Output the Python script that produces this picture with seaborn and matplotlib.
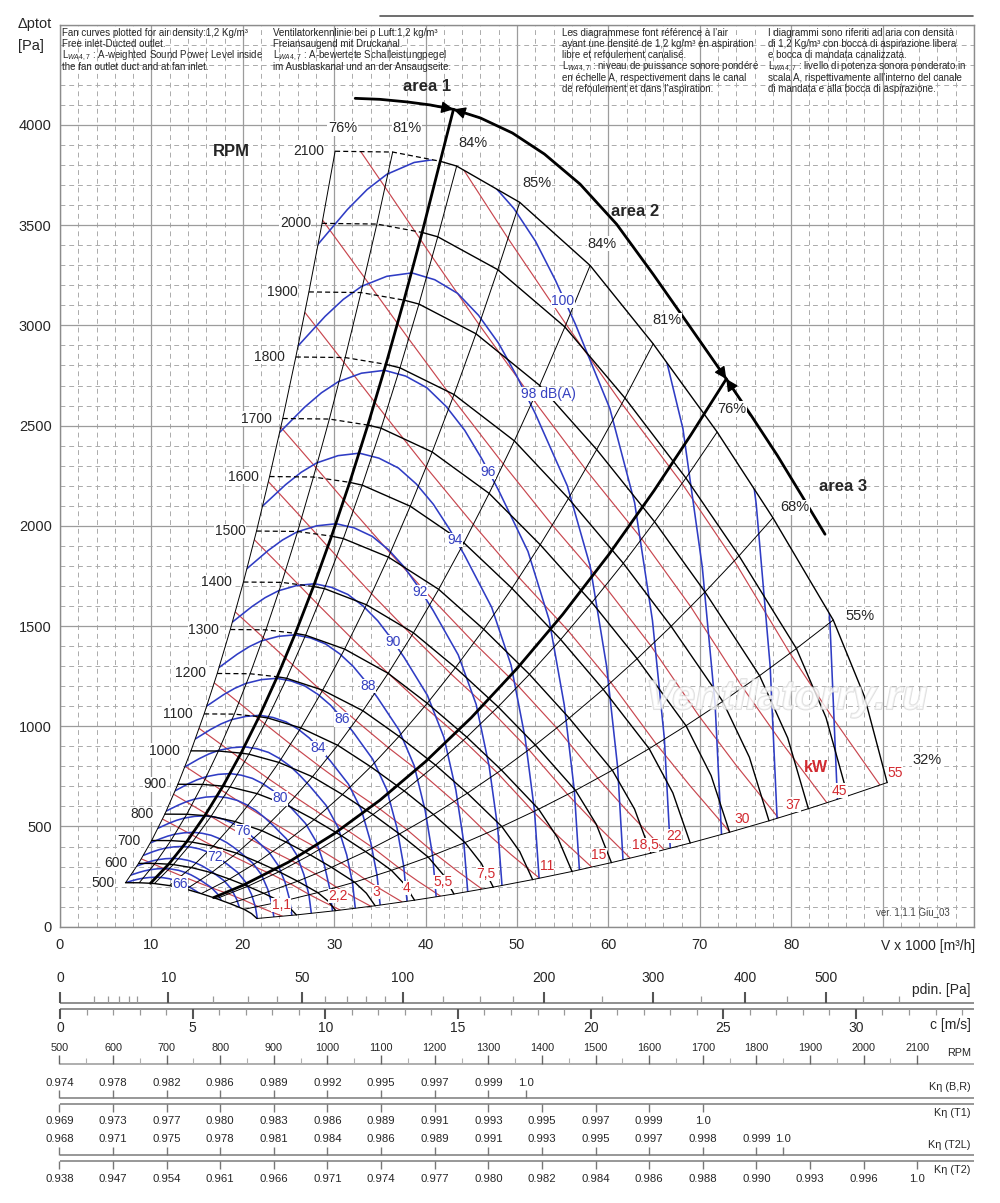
import numpy as np
import matplotlib
matplotlib.use("Agg")
import matplotlib.pyplot as plt
import matplotlib.patheffects as pe
from matplotlib.patches import Polygon
from matplotlib.lines import Line2D
import seaborn as sns

sns.set_style("white")
plt.rcParams["font.family"] = ["Liberation Sans", "DejaVu Sans"]
plt.rcParams["mathtext.fontset"] = "custom"
plt.rcParams["mathtext.rm"] = "Liberation Sans"
plt.rcParams["mathtext.it"] = "Liberation Sans:italic"

# ---------------- fan curves: V x 1000 [m3/h] / ptot [Pa] ----------------
rpm_values = [500, 600, 700, 800, 900, 1000, 1100, 1200, 1300, 1400, 1500,
              1600, 1700, 1800, 1900, 2000, 2100]
n500_v = [7.17, 8.67, 9.90, 10.33, 11.98, 13.81, 15.45, 17.12, 18.57, 20.14, 20.95, 21.55]
n500_p = [219.3, 219.1, 216.5, 215.1, 204.9, 187.0, 164.9, 139.9, 115.6, 86.7, 65.2, 40.8]
n600_v = [8.60, 10.40, 11.89, 12.40, 14.37, 16.57, 18.54, 20.54, 22.29, 24.17, 25.14, 25.86]
n600_p = [315.8, 315.5, 311.7, 309.8, 295.0, 269.3, 237.4, 201.5, 166.5, 124.9, 93.9, 58.7]
n700_v = [10.03, 12.13, 13.87, 14.47, 16.77, 19.33, 21.63, 23.97, 26.00, 28.20, 29.33, 30.17]
n700_p = [429.9, 429.4, 424.3, 421.7, 401.6, 366.6, 323.1, 274.2, 226.7, 170.0, 127.8, 79.9]
n800_v = [11.47, 13.87, 15.85, 16.53, 19.16, 22.10, 24.72, 27.39, 29.71, 32.23, 33.52, 34.48]
n800_p = [561.5, 560.9, 554.2, 550.7, 524.5, 478.7, 422.0, 358.2, 296.0, 222.0, 166.9, 104.3]
n900_v = [12.90, 15.60, 17.83, 18.60, 21.56, 24.86, 27.81, 30.81, 33.43, 36.26, 37.71, 38.79]
n900_p = [710.6, 709.9, 701.4, 697.0, 663.8, 605.9, 534.1, 453.3, 374.7, 281.0, 211.2, 132.1]
n1000_v = [14.33, 17.33, 19.81, 20.67, 23.95, 27.62, 30.90, 34.24, 37.14, 40.29, 41.90, 43.10]
n1000_p = [877.3, 876.4, 866.0, 860.6, 819.5, 748.1, 659.4, 559.6, 462.6, 346.9, 260.8, 163.0]
n1100_v = [15.77, 19.07, 21.79, 22.73, 26.35, 30.38, 34.00, 37.66, 40.86, 44.31, 46.10, 47.40]
n1100_p = [1061.6, 1060.5, 1047.9, 1041.3, 991.6, 905.2, 797.9, 677.2, 559.7, 419.8, 315.5, 197.3]
n1200_v = [17.20, 20.80, 23.77, 24.80, 28.74, 33.14, 37.09, 41.09, 44.57, 48.34, 50.29, 51.71]
n1200_p = [1263.3, 1262.0, 1247.0, 1239.2, 1180.1, 1077.2, 949.5, 805.9, 666.1, 499.6, 375.5, 234.8]
n1300_v = [18.63, 22.53, 25.75, 26.87, 31.14, 35.90, 40.18, 44.51, 48.29, 52.37, 54.48, 56.02]
n1300_p = [1482.7, 1481.1, 1463.5, 1454.3, 1385.0, 1264.2, 1114.4, 945.8, 781.8, 586.3, 440.7, 275.5]
n1400_v = [20.07, 24.27, 27.73, 28.93, 33.53, 38.67, 43.27, 47.93, 52.00, 56.40, 58.67, 60.33]
n1400_p = [1719.6, 1717.8, 1697.3, 1686.7, 1606.2, 1466.2, 1292.4, 1096.9, 906.7, 680.0, 511.1, 319.6]
n1500_v = [21.50, 26.00, 29.71, 31.00, 35.93, 41.43, 46.36, 51.36, 55.71, 60.43, 62.86, 64.64]
n1500_p = [1974.0, 1971.9, 1948.5, 1936.2, 1843.9, 1683.2, 1483.7, 1259.2, 1040.8, 780.6, 586.7, 366.8]
n1600_v = [22.93, 27.73, 31.70, 33.07, 38.32, 44.19, 49.45, 54.78, 59.43, 64.46, 67.05, 68.95]
n1600_p = [2246.0, 2243.6, 2216.9, 2203.0, 2097.9, 1915.1, 1688.1, 1432.7, 1184.2, 888.2, 667.6, 417.4]
n1700_v = [24.37, 29.47, 33.68, 35.13, 40.72, 46.95, 52.54, 58.20, 63.14, 68.49, 71.24, 73.26]
n1700_p = [2535.5, 2532.8, 2502.7, 2487.0, 2368.4, 2161.9, 1905.7, 1617.4, 1336.9, 1002.7, 753.6, 471.2]
n1800_v = [25.80, 31.20, 35.66, 37.20, 43.11, 49.71, 55.63, 61.63, 66.86, 72.51, 75.43, 77.57]
n1800_p = [2842.5, 2839.6, 2805.8, 2788.2, 2655.2, 2423.8, 2136.5, 1813.2, 1498.8, 1124.1, 844.9, 528.2]
n1900_v = [27.23, 32.93, 37.64, 39.27, 45.51, 52.48, 58.72, 65.05, 70.57, 76.54, 79.62, 81.88]
n1900_p = [3167.1, 3163.9, 3126.2, 3106.5, 2958.4, 2700.5, 2380.5, 2020.3, 1669.9, 1252.4, 941.4, 588.6]
n2000_v = [28.67, 34.67, 39.62, 41.33, 47.90, 55.24, 61.81, 68.48, 74.29, 80.57, 83.81, 86.19]
n2000_p = [3509.3, 3505.7, 3463.9, 3442.2, 3278.0, 2992.3, 2637.6, 2238.5, 1850.3, 1387.8, 1043.1, 652.2]
n2100_v = [30.10, 36.40, 41.60, 43.40, 50.30, 58.00, 64.90, 71.90, 78.00, 84.60, 88.00, 90.50]
n2100_p = [3869, 3865, 3819, 3795, 3614, 3299, 2908, 2468, 2040, 1530, 1150, 719]

# efficiency lines join the same point index on every speed curve
eff_index = [0, 1, 3, 4, 5, 6, 7, 8, 9, 11]
eff_labels = ["76%", "81%", "84%", "85%", "84%", "81%", "76%", "68%", "55%", "32%"]
eff_label_v = [30.9, 38.0, 45.15, 52.2, 59.3, 66.4, 73.5, 80.4, 87.5, 94.9]
eff_label_p = [3983, 3983, 3908, 3713, 3408, 3025, 2583, 2092, 1548, 833]

# ---------------- sound power lines dB(A) ----------------
db66_v = [7.17, 7.98, 8.53, 9.08, 9.84, 10.59, 11.28, 11.97, 12.60, 13.21, 13.76, 14.31, 15.27, 15.96, 16.45, 16.78, 16.95]
db66_p = [219.4, 230.5, 236.9, 241.8, 245.6, 246.9, 244.3, 239.2, 230.9, 220.3, 207.8, 193.8, 166.5, 136.3, 98.4, 60.6, 25.1]
db68_v = [7.77, 8.65, 9.25, 9.84, 10.66, 11.48, 12.23, 12.97, 13.66, 14.32, 14.91, 15.51, 16.55, 17.30, 17.83, 18.19, 18.37]
db68_p = [257.8, 270.8, 278.4, 284.2, 288.6, 290.1, 287.1, 281.1, 271.3, 258.8, 244.2, 227.7, 195.7, 160.1, 115.6, 71.2, 29.4]
db70_v = [8.42, 9.38, 10.02, 10.67, 11.56, 12.45, 13.25, 14.06, 14.81, 15.52, 16.16, 16.81, 17.94, 18.75, 19.33, 19.72, 19.92]
db70_p = [302.9, 318.3, 327.1, 333.9, 339.2, 340.9, 337.4, 330.3, 318.8, 304.1, 286.9, 267.6, 229.9, 188.1, 135.9, 83.6, 34.6]
db72_v = [9.13, 10.16, 10.86, 11.56, 12.53, 13.49, 14.37, 15.24, 16.05, 16.82, 17.52, 18.22, 19.45, 20.33, 20.96, 21.38, 21.59]
db72_p = [355.9, 374.0, 384.4, 392.4, 398.5, 400.6, 396.4, 388.1, 374.6, 357.4, 337.1, 314.4, 270.2, 221.1, 159.7, 98.2, 40.7]
db74_v = [9.90, 11.02, 11.78, 12.54, 13.58, 14.63, 15.58, 16.53, 17.40, 18.23, 18.99, 19.75, 21.08, 22.03, 22.72, 23.17, 23.40]
db74_p = [418.2, 439.4, 451.7, 461.1, 468.3, 470.7, 465.8, 456.0, 440.1, 419.9, 396.1, 369.4, 317.5, 259.8, 187.6, 115.4, 47.8]
db76_v = [10.73, 11.94, 12.77, 13.59, 14.72, 15.85, 16.88, 17.91, 18.86, 19.77, 20.59, 21.41, 22.85, 23.88, 24.63, 25.12, 25.37]
db76_p = [491.4, 516.4, 530.8, 541.8, 550.3, 553.1, 547.4, 535.8, 517.2, 493.5, 465.5, 434.1, 373.1, 305.2, 220.4, 135.7, 56.1]
db78_v = [11.63, 12.95, 13.84, 14.73, 15.96, 17.19, 18.30, 19.42, 20.44, 21.43, 22.32, 23.21, 24.77, 25.89, 26.69, 27.23, 27.50]
db78_p = [577.4, 606.7, 623.7, 636.6, 646.6, 650.0, 643.2, 629.7, 607.7, 579.8, 547.0, 510.1, 438.4, 358.7, 259.0, 159.4, 66.0]
db80_v = [12.61, 14.03, 15.00, 15.97, 17.30, 18.63, 19.84, 21.05, 22.16, 23.23, 24.19, 25.16, 26.86, 28.07, 28.94, 29.52, 29.81]
db80_p = [678.5, 713.0, 732.8, 748.1, 759.8, 763.8, 755.8, 739.9, 714.1, 681.3, 642.7, 599.4, 515.1, 421.4, 304.4, 187.3, 77.5]
db82_v = [13.66, 15.21, 16.26, 17.31, 18.75, 20.19, 21.51, 22.82, 24.02, 25.18, 26.23, 27.28, 29.11, 30.42, 31.37, 32.00, 32.31]
db82_p = [797.3, 837.8, 861.1, 879.0, 892.8, 897.5, 888.1, 869.4, 839.1, 800.6, 755.2, 704.3, 605.3, 495.2, 357.7, 220.1, 91.1]
db84_v = [14.81, 16.49, 17.63, 18.76, 20.33, 21.89, 23.31, 24.73, 26.04, 27.29, 28.43, 29.57, 31.56, 32.98, 34.00, 34.68, 35.03]
db84_p = [936.9, 984.4, 1011.9, 1032.9, 1049.1, 1054.6, 1043.6, 1021.6, 986.0, 940.8, 887.4, 827.6, 711.2, 581.9, 420.3, 258.6, 107.0]
db86_v = [16.06, 17.87, 19.11, 20.34, 22.03, 23.73, 25.27, 26.81, 28.23, 29.59, 30.82, 32.05, 34.21, 35.75, 36.86, 37.60, 37.97]
db86_p = [1100.9, 1156.7, 1189.0, 1213.7, 1232.7, 1239.2, 1226.3, 1200.4, 1158.6, 1105.4, 1042.8, 972.5, 835.7, 683.8, 493.8, 303.9, 125.7]
db88_v = [17.41, 19.38, 20.71, 22.05, 23.89, 25.72, 27.39, 29.06, 30.60, 32.07, 33.41, 34.74, 37.08, 38.75, 39.95, 40.76, 41.16]
db88_p = [1293.6, 1359.2, 1397.2, 1426.2, 1448.5, 1456.1, 1440.9, 1410.6, 1361.5, 1299.0, 1225.3, 1142.7, 982.0, 803.5, 580.3, 357.1, 147.8]
db90_v = [18.87, 21.00, 22.45, 23.90, 25.89, 27.88, 29.69, 31.50, 33.17, 34.76, 36.21, 37.66, 40.20, 42.01, 43.31, 44.18, 44.61]
db90_p = [1520.1, 1597.2, 1641.8, 1675.9, 1702.1, 1711.0, 1693.2, 1657.5, 1599.8, 1526.4, 1439.8, 1342.8, 1154.0, 944.1, 681.9, 419.6, 173.6]
db92_v = [20.45, 22.77, 24.34, 25.91, 28.07, 30.23, 32.19, 34.15, 35.96, 37.68, 39.25, 40.82, 43.57, 45.53, 46.95, 47.89, 48.36]
db92_p = [1786.2, 1876.8, 1929.2, 1969.2, 2000.0, 2010.5, 1989.6, 1947.7, 1879.9, 1793.6, 1691.9, 1577.8, 1356.0, 1109.4, 801.3, 493.1, 204.0]
db94_v = [22.17, 24.68, 26.38, 28.08, 30.42, 32.76, 34.89, 37.02, 38.98, 40.85, 42.55, 44.25, 47.23, 49.36, 50.89, 51.91, 52.42]
db94_p = [2098.9, 2205.3, 2266.9, 2313.9, 2350.2, 2362.5, 2337.8, 2288.6, 2208.9, 2107.5, 1988.0, 1854.1, 1593.3, 1303.6, 941.5, 579.4, 239.7]
db96_v = [24.03, 26.75, 28.60, 30.44, 32.98, 35.52, 37.82, 40.13, 42.25, 44.28, 46.13, 47.97, 51.20, 53.51, 55.17, 56.27, 56.83]
db96_p = [2466.3, 2591.4, 2663.7, 2719.0, 2761.6, 2776.0, 2747.1, 2689.2, 2595.6, 2476.5, 2336.1, 2178.6, 1872.3, 1531.8, 1106.3, 680.8, 281.7]
db98_v = [26.05, 29.0, 31.0, 33.0, 35.75, 38.5, 41.0, 43.5, 45.8, 48.0, 50.0, 52.0, 55.5, 58.0, 59.8, 61.0, 61.6]
db98_p = [2898, 3045, 3130, 3195, 3245, 3262, 3228, 3160, 3050, 2910, 2745, 2560, 2200, 1800, 1300, 800, 331]
db100_v = [28.24, 31.44, 33.60, 35.77, 38.75, 41.73, 44.44, 47.15, 49.65, 52.03, 54.20, 56.37, 60.16, 62.87, 64.82, 66.12, 66.77]
db100_p = [3405.3, 3578.0, 3677.9, 3754.3, 3813.1, 3833.0, 3793.1, 3713.2, 3583.9, 3419.4, 3225.5, 3008.1, 2585.1, 2115.1, 1527.6, 940.0, 388.9]
db102_v = [65.22, 68.15, 70.27, 71.68, 72.38]
db102_p = [3037.7, 2485.4, 1795.0, 1104.6, 457.0]
db104_v = [73.88, 76.17, 77.70, 78.46]
db104_p = [2920.4, 2109.2, 1298.0, 537.0]
db106_v = [82.57, 84.23, 85.06]
db106_p = [2478.4, 1525.2, 631.1]

db_label_text = ["66", "72", "76", "80", "84", "86", "88", "90", "92", "94", "96",
                 "98 dB(A)", "100"]
db_label_v = [13.13, 16.96, 20.02, 24.07, 28.23, 30.85, 33.7, 36.43, 39.39, 43.22,
              46.83, 53.39, 55.03]
db_label_p = [215, 350, 478, 640, 890, 1035, 1200, 1420, 1670, 1930, 2270, 2658, 3123]

# ---------------- absorbed power lines kW ----------------
kw_1_1_v = [8.90, 10.32, 11.82, 13.31, 15.03, 16.69, 18.47, 20.03, 21.68, 22.89, 24.35]
kw_1_1_p = [338.2, 310.7, 281.4, 252.9, 221.5, 192.2, 162.9, 134.4, 100.5, 77.8, 52.0]
kw_2_2_v = [11.21, 13.01, 14.89, 16.77, 18.93, 21.03, 23.27, 25.23, 27.31, 28.84, 30.68]
kw_2_2_p = [537.0, 493.3, 446.8, 401.6, 351.6, 305.1, 258.7, 213.4, 159.5, 123.5, 82.6]
kw_3_v = [12.44, 14.42, 16.51, 18.59, 21.00, 23.32, 25.81, 27.98, 30.29, 31.98, 34.02]
kw_3_p = [660.4, 606.6, 549.5, 493.8, 432.4, 375.2, 318.1, 262.5, 196.1, 151.9, 101.5]
kw_4_v = [13.69, 15.87, 18.17, 20.47, 23.11, 25.66, 28.41, 30.80, 33.34, 35.20, 37.45]
kw_4_p = [800.0, 734.8, 665.6, 598.2, 523.8, 454.6, 385.3, 317.9, 237.6, 184.0, 123.0]
kw_5_5_v = [15.22, 17.65, 20.21, 22.76, 25.70, 28.54, 31.59, 34.25, 37.07, 39.14, 41.64]
kw_5_5_p = [989.2, 908.6, 823.0, 739.7, 647.7, 562.1, 476.5, 393.1, 293.8, 227.6, 152.1]
kw_7_5_v = [16.88, 19.57, 22.41, 25.24, 28.50, 31.65, 35.03, 37.98, 41.11, 43.40, 46.18]
kw_7_5_p = [1216.4, 1117.3, 1012.1, 909.6, 796.4, 691.2, 585.9, 483.4, 361.3, 279.9, 187.0]
kw_11_v = [19.18, 22.24, 25.46, 28.67, 32.38, 35.95, 39.80, 43.15, 46.71, 49.31, 52.47]
kw_11_p = [1570.2, 1442.4, 1306.5, 1174.2, 1028.1, 892.2, 756.4, 624.1, 466.4, 361.3, 241.4]
kw_15_v = [21.26, 24.66, 28.24, 31.80, 35.90, 39.87, 44.13, 47.85, 51.79, 54.68, 58.18]
kw_15_p = [1930.9, 1773.7, 1606.6, 1443.9, 1264.2, 1097.2, 930.1, 767.4, 573.5, 444.2, 296.9]
kw_18_5_v = [22.80, 26.45, 30.28, 34.10, 38.50, 42.76, 47.33, 51.31, 55.54, 58.64, 62.39]
kw_18_5_p = [2220.6, 2039.8, 1847.7, 1660.6, 1453.9, 1261.8, 1069.7, 882.6, 659.6, 510.9, 341.4]
kw_22_v = [24.16, 28.02, 32.08, 36.13, 40.79, 45.30, 50.14, 54.36, 58.85, 62.13, 66.10]
kw_22_p = [2492.5, 2289.6, 2073.9, 1863.9, 1632.0, 1416.3, 1200.6, 990.6, 740.3, 573.5, 383.2]
kw_30_v = [26.79, 31.07, 35.57, 40.06, 45.23, 50.23, 55.60, 60.28, 65.25, 68.89, 73.30]
kw_30_p = [3065.0, 2815.4, 2550.2, 2292.0, 2006.8, 1741.6, 1476.4, 1218.2, 910.4, 705.2, 471.3]
kw_37_v = [28.73, 33.32, 38.15, 42.96, 48.51, 53.87, 59.63, 64.65, 69.98, 73.88, 78.61]
kw_37_p = [3525, 3238, 2933, 2636, 2308, 2003, 1698, 1401, 1047, 811, 542]
kw_45_v = [30.67, 35.57, 40.72, 45.86, 51.78, 57.50, 63.65, 69.01, 74.70, 78.86, 83.91]
kw_45_p = [4016.4, 3689.4, 3341.9, 3003.5, 2629.8, 2282.2, 1934.7, 1596.3, 1193.0, 924.1, 617.6]
kw_55_v = [38.03, 43.54, 49.03, 55.36, 61.48, 68.05, 73.78, 79.87, 84.32, 89.72]
kw_55_p = [4217.5, 3820.2, 3433.4, 3006.2, 2608.9, 2211.6, 1824.8, 1363.7, 1056.3, 706.0]

kw_label_text = ["1,1", "2,2", "3", "4", "5,5", "7,5", "11", "15", "18,5", "22",
                 "30", "37", "45", "55"]
kw_label_v = [24.18, 30.42, 34.57, 37.96, 41.9, 46.61, 53.28, 58.97, 64.0, 67.18,
              74.62, 80.2, 85.3, 91.35]
kw_label_p = [108.5, 153.5, 173.5, 193.5, 223.5, 263.5, 303.5, 358.5, 408.5, 453.5,
              538.5, 608.5, 678.5, 768.5]

# ---------------- working areas ----------------
area1_top = (43.05, 4078)
area2_v = [16.8, 20, 25, 30, 35, 40, 45, 50, 55, 60, 65, 69, 72.9]
area2_p = [145, 206, 322, 464, 631, 824, 1043, 1288, 1558, 1854, 2176, 2452, 2733]
arc_v = [32.3, 35.0, 38.0, 40.5, 43.05, 46.0, 49.5, 53.0, 56.9, 60.9, 64.9, 68.9, 72.9,
         75.7, 78.5, 81.1, 83.7]
arc_p = [4133, 4128, 4115, 4100, 4078, 4035, 3960, 3855, 3705, 3505, 3255, 2995, 2733,
         2545, 2350, 2155, 1958]

# ---------------- bottom scales ----------------
c_major = [0, 5, 10, 15, 20, 25, 30]
c_minor = [c for c in range(1, 35) if c % 5]
pdin_major = [0, 10, 50, 100, 200, 300, 400, 500]
pdin_minor = [1, 2, 3, 4, 5, 20, 30, 40, 60, 70, 80, 90, 125, 150, 175, 250, 350,
              450, 550, 600]
rpm_scale = list(range(500, 2101, 100))
rpm_scale_minor = list(range(550, 2051, 100))
k_br_rpm = [500, 600, 700, 800, 900, 1000, 1100, 1200, 1300, 1370]
k_br = ["0.974", "0.978", "0.982", "0.986", "0.989", "0.992", "0.995", "0.997", "0.999", "1.0"]
k_t1_rpm = list(range(500, 1701, 100))
k_t1 = ["0.969", "0.973", "0.977", "0.980", "0.983", "0.986", "0.989", "0.991", "0.993",
        "0.995", "0.997", "0.999", "1.0"]
k_t2l_rpm = list(range(500, 1801, 100)) + [1850]
k_t2l = ["0.968", "0.971", "0.975", "0.978", "0.981", "0.984", "0.986", "0.989", "0.991",
         "0.993", "0.995", "0.997", "0.998", "0.999", "1.0"]
k_t2_rpm = list(range(500, 2101, 100))
k_t2 = ["0.938", "0.947", "0.954", "0.961", "0.966", "0.971", "0.974", "0.977", "0.980",
        "0.982", "0.984", "0.986", "0.988", "0.990", "0.993", "0.996", "1.0"]

rpm_v = [n500_v, n600_v, n700_v, n800_v, n900_v, n1000_v, n1100_v, n1200_v, n1300_v,
         n1400_v, n1500_v, n1600_v, n1700_v, n1800_v, n1900_v, n2000_v, n2100_v]
rpm_p = [n500_p, n600_p, n700_p, n800_p, n900_p, n1000_p, n1100_p, n1200_p, n1300_p,
         n1400_p, n1500_p, n1600_p, n1700_p, n1800_p, n1900_p, n2000_p, n2100_p]
db_curves = [(db66_v, db66_p), (db68_v, db68_p), (db70_v, db70_p), (db72_v, db72_p),
             (db74_v, db74_p), (db76_v, db76_p), (db78_v, db78_p), (db80_v, db80_p),
             (db82_v, db82_p), (db84_v, db84_p), (db86_v, db86_p), (db88_v, db88_p),
             (db90_v, db90_p), (db92_v, db92_p), (db94_v, db94_p), (db96_v, db96_p),
             (db98_v, db98_p), (db100_v, db100_p), (db102_v, db102_p),
             (db104_v, db104_p), (db106_v, db106_p)]
kw_curves = [(kw_1_1_v, kw_1_1_p), (kw_2_2_v, kw_2_2_p), (kw_3_v, kw_3_p), (kw_4_v, kw_4_p),
             (kw_5_5_v, kw_5_5_p), (kw_7_5_v, kw_7_5_p), (kw_11_v, kw_11_p),
             (kw_15_v, kw_15_p), (kw_18_5_v, kw_18_5_p), (kw_22_v, kw_22_p),
             (kw_30_v, kw_30_p), (kw_37_v, kw_37_p), (kw_45_v, kw_45_p), (kw_55_v, kw_55_p)]

BLUE = "#2f3cc4"
RED = "#c8464e"
GRID = "#9c9c9c"

fig = plt.figure(figsize=(10, 12.03), dpi=100)
ax = fig.add_axes([0.060, 0.2297, 0.914, 0.7497])


def draw(v, p, clip=None, **kw):
    sns.lineplot(x=v, y=p, sort=False, estimator=None, legend=False, ax=ax, **kw)
    line = ax.lines[-1]
    if clip is not None:
        line.set_clip_path(clip)
    return line


# envelope of the chart (used to clip the dB and kW lines)
env_v = [v[0] for v in rpm_v] + n2100_v[1:] + [v[11] for v in rpm_v[::-1]][1:] + n500_v[10:0:-1]
env_p = [p[0] for p in rpm_p] + n2100_p[1:] + [p[11] for p in rpm_p[::-1]][1:] + n500_p[10:0:-1]
env = Polygon(np.column_stack([env_v, env_p]), closed=True, transform=ax.transData,
              facecolor="none", edgecolor="none")

for v, p in kw_curves:
    draw(v, p, clip=env, color=RED, linewidth=0.85, zorder=2)
for v, p in db_curves:
    draw(v, p, clip=env, color=BLUE, linewidth=1.15, zorder=3)

# efficiency lines
for k in eff_index:
    draw([v[k] for v in rpm_v], [p[k] for p in rpm_p], color="black", linewidth=0.7, zorder=3.5)

# speed curves
for n, v, p in zip(rpm_values, rpm_v, rpm_p):
    if n >= 1100:
        draw(v[:3], p[:3], color="black", linewidth=0.9, linestyle=(0, (4, 2.5)), zorder=4)
        draw(v[2:], p[2:], color="black", linewidth=1.0, zorder=4)
    else:
        draw(v, p, color="black", linewidth=1.0, zorder=4)
    ax.annotate(str(n), (v[0], p[0]), xytext=(-8, 0), textcoords="offset points",
                ha="right", va="center", fontsize=10, zorder=7,
                bbox=dict(facecolor="white", edgecolor="none", pad=0.3))

# working areas
draw([v[2] for v in rpm_v] + [area1_top[0]], [p[2] for p in rpm_p] + [area1_top[1]],
     color="black", linewidth=2.0, zorder=5)
draw(area2_v, area2_p, color="black", linewidth=2.0, zorder=5)
draw(arc_v, arc_p, color="black", linewidth=2.0, zorder=5)
arrow = dict(arrowstyle="-|>,head_length=0.6,head_width=0.3", color="black", lw=1,
             mutation_scale=12, shrinkA=0, shrinkB=0)
for tip, a, b in [((43.05, 4078), (40.0, 4103), (46.0, 4035)),
                  ((72.9, 2733), (70.0, 2925), (75.5, 2552))]:
    ax.annotate("", xy=tip, xytext=a, arrowprops=arrow, zorder=6)
    ax.annotate("", xy=tip, xytext=b, arrowprops=arrow, zorder=6)

for txt, xy in [("area 1", (40.15, 4193)), ("area 2", (62.9, 3568)), ("area 3", (85.7, 2198))]:
    ax.text(*xy, txt, fontsize=12, fontweight="bold", ha="center", va="center", zorder=7)
ax.text(18.76, 3870, "RPM", fontsize=12, fontweight="bold", ha="center", va="center", zorder=7)

label_box = dict(facecolor="white", edgecolor="none", pad=0.4)
for t, v, p in zip(eff_labels, eff_label_v, eff_label_p):
    ax.text(v, p, t, fontsize=10.5, ha="center", va="center", zorder=7, bbox=label_box)
for t, v, p in zip(db_label_text, db_label_v, db_label_p):
    ax.text(v, p, t, fontsize=10, color="#3540c0", ha="center", va="center", zorder=8,
            bbox=dict(facecolor="white", edgecolor="none", pad=0.2))
for t, v, p in zip(kw_label_text, kw_label_v, kw_label_p):
    ax.text(v, p, t, fontsize=10, color="#d22a30", ha="center", va="center", zorder=8,
            bbox=dict(facecolor="white", edgecolor="none", pad=0.2))
ax.text(82.71, 793.5, "kW", fontsize=11.5, fontweight="bold", color="#d22a30",
        ha="center", va="center", zorder=8)

ax.text(79.5, 1140, "Ventilatorry.ru", fontsize=30, style="italic", fontweight="bold",
        color="white", alpha=0.55, ha="center", va="center", zorder=9,
        path_effects=[pe.withStroke(linewidth=1.2, foreground="#c4c4c4")])
ax.text(97.4, 73.5, "ver. 1.1.1 Giu_03", fontsize=7, color="#444444", ha="right", va="center")

# axes, grid and ticks
ax.set_xlim(0, 100)
ax.set_ylim(0, 4500)
ax.set_xticks(range(0, 101, 10))
ax.set_xticklabels([str(t) if t <= 80 else "" for t in range(0, 101, 10)])
ax.set_yticks(range(0, 4501, 500))
ax.set_yticklabels([str(t) if t <= 4000 else "" for t in range(0, 4501, 500)])
ax.set_xticks(range(0, 101, 2), minor=True)
ax.set_yticks(range(0, 4501, 100), minor=True)
ax.set_axisbelow(True)
ax.grid(which="major", color=GRID, linewidth=0.9, linestyle="-")
ax.grid(which="minor", color="#ababab", linewidth=0.7, linestyle=(0, (5, 4)))
ax.tick_params(which="minor", length=0)
ax.tick_params(axis="x", which="major", length=7, width=0.9, color="#8c8c8c", pad=1.5,
               labelsize=10.5)
ax.tick_params(axis="y", which="major", length=4.5, width=0.9, color="#8c8c8c", pad=1.5,
               labelsize=10.5)
ax.set_xlabel("")
ax.set_ylabel("")
for s in ax.spines.values():
    s.set_color("#8c8c8c")
    s.set_linewidth(1)

fig.text(0.018, 1 - 24.3 / 1203, "Δptot", fontsize=10.5, ha="left", va="center")
fig.text(0.018, 1 - 46 / 1203, "[Pa]", fontsize=10.5, ha="left", va="center")
fig.text(0.975, 1 - 946 / 1203, "V x 1000 [m³/h]", fontsize=10, ha="right", va="center")
fig.add_artist(Line2D([0.38, 0.973], [1 - 16 / 1203] * 2, color="#555555", lw=1.2))

col1 = ["Fan curves plotted for air density:1,2 Kg/m³", "Free inlet-Ducted outlet.",
        "L$_{WA4,7}$ : A-weighted Sound Power Level inside", "the fan outlet duct and at fan inlet."]
col2 = ["Ventilatorkennlinie bei ρ Luft:1,2 kg/m³", "Freiansaugend mit Druckanal.",
        "L$_{WA4,7}$ : A-bewertete Schalleistungpegel", "im Ausblaskanal und an der Ansaugseite."]
col3 = ["Les diagrammese font référence à l’air", "ayant une densité de 1,2 kg/m³ en aspiration",
        "libre et refoulement canalisé.", "L$_{WA4,7}$ : niveau de puissance sonore pondéré",
        "en échelle A, respectivement dans le canal", "de refoulement et dans l’aspiration."]
col4 = ["I diagrammi sono riferiti ad aria con densità", "di 1,2 Kg/m³ con bocca di aspirazione libera",
        "e bocca di mandata canalizzata.", "L$_{WA4,7}$ : livello di potenza sonora ponderato in",
        "scala A, rispettivamente all’interno del canale", "di mandata e alla bocca di aspirazione."]
for x0, lines in [(0.062, col1), (0.2727, col2), (0.5617, col3), (0.7683, col4)]:
    for i, s in enumerate(lines):
        fig.text(x0, 1 - (33.3 + 11.1 * i) / 1203, s, fontsize=7.0, ha="left", va="center")

# ---------------- bottom scales (y in pixel rows) ----------------
rect = [0.060, 0.0, 0.914, 263 / 1203]
axc = fig.add_axes(rect)
axc.set_xlim(0, 34.45)
axp = fig.add_axes(rect)
axp.set_xscale("function", functions=(lambda p: np.sqrt(np.clip(p, 0, None) / 0.6),
                                      lambda c: 0.6 * np.asarray(c) ** 2))
axp.set_xlim(0, 712)
axr = fig.add_axes(rect)
axr.set_xlim(501, 2206)
for a in (axc, axp, axr):
    a.set_ylim(1203, 940)
    a.axis("off")

LINE = "#8f8f8f"
TICK = "#555555"
axp.hlines(1003, 0, 712, color=LINE, lw=1.4, clip_on=False)
axp.vlines(pdin_major, 992, 1003, color=TICK, lw=1.5, clip_on=False)
axp.vlines(pdin_minor, 996, 1003, color="#999999", lw=0.9, clip_on=False)
for t in pdin_major:
    axp.text(t, 978, str(t), fontsize=10, ha="center", va="center")

axc.hlines(1009, 0, 34.45, color=LINE, lw=1.4, clip_on=False)
axc.vlines(c_major, 1009, 1019, color=TICK, lw=1.5, clip_on=False)
axc.vlines(c_minor, 1009, 1015, color="#999999", lw=0.9, clip_on=False)
for t in c_major:
    axc.text(t, 1027.5, str(t), fontsize=10, ha="center", va="center")

axr.hlines(1064, 501, 2206, color="#a8a8a8", lw=1.3, clip_on=False)
axr.vlines(rpm_scale, 1055, 1064, color="#666666", lw=1, clip_on=False)
axr.vlines(rpm_scale_minor, 1058, 1064, color="#b0b0b0", lw=0.8, clip_on=False)
for t in rpm_scale:
    axr.text(t, 1048, str(t), fontsize=7.8, ha="center", va="center")

small = dict(fontsize=8.2, ha="center", va="center")
axr.hlines(1098, 501, 2206, color=LINE, lw=1.3, clip_on=False)
axr.vlines(k_br_rpm, 1090, 1098, color="#777777", lw=1, clip_on=False)
for r, t in zip(k_br_rpm, k_br):
    axr.text(r, 1083, t, **small)
axr.hlines(1103.5, 501, 2206, color=LINE, lw=1.3, clip_on=False)
axr.vlines(k_t1_rpm, 1103.5, 1111.5, color="#777777", lw=1, clip_on=False)
for r, t in zip(k_t1_rpm, k_t1):
    axr.text(r, 1121.5, t, **small)
axr.hlines(1155, 501, 2206, color=LINE, lw=1.3, clip_on=False)
axr.vlines(k_t2l_rpm, 1147, 1155, color="#777777", lw=1, clip_on=False)
for r, t in zip(k_t2l_rpm, k_t2l):
    axr.text(r, 1139.5, t, **small)
axr.hlines(1160.5, 501, 2206, color=LINE, lw=1.3, clip_on=False)
axr.vlines(k_t2_rpm, 1160.5, 1169, color="#777777", lw=1, clip_on=False)
for r, t in zip(k_t2_rpm, k_t2):
    axr.text(r, 1178.5, t, **small)

for txt, y, fs in [("pdin. [Pa]", 990, 10), ("c [m/s]", 1025, 10), ("RPM", 1053, 7.8),
                   ("Kη (B,R)", 1087, 7.8), ("Kη (T1)", 1113, 7.8), ("Kη (T2L)", 1145, 7.8),
                   ("Kη (T2)", 1170, 7.8)]:
    axr.text(2200, y, txt, fontsize=fs, ha="right", va="center")

fig.savefig("out.png", dpi=100)
